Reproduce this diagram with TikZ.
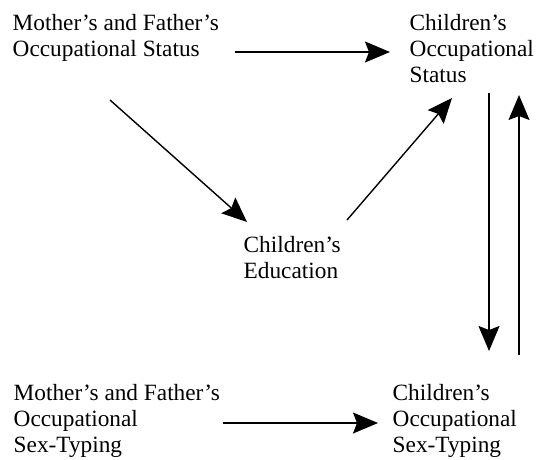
\documentclass[tikz,border=0pt]{standalone}
\usepackage{fontspec}
\setmainfont{Liberation Serif}
\usetikzlibrary{calc,arrows.meta}

\begin{document}
\begin{tikzpicture}[x=1pt,y=-1pt,line width=1.4pt,
  lbl/.style={anchor=base west,inner sep=0pt,align=left,font=\fontsize{23.3}{26}\selectfont},
  arr/.style={-{Stealth[length=25pt,width=21pt,inset=4pt]}}]
  \useasboundingbox (0,0) rectangle (537,459);

  % base anchor sits on the last line
  \node[lbl] (par) at (12,56) {Mother's and Father's\\Occupational Status};
  \node[lbl] (cos) at (409,82) {Children's\\Occupational\\Status};
  \node[lbl] (edu) at (243,278) {Children's\\Education};
  \node[lbl] (pst) at (13,452) {Mother's and Father's\\Occupational\\Sex-Typing};
  \node[lbl] (cst) at (392,452) {Children's\\Occupational\\Sex-Typing};

  \draw[arr] ($(par.base east)+(15,-4)$) -- ($(cos.base west)+(-19,-30)$);
  \draw[arr] ($(par.base west)+(98,44)$) -- ($(edu.base west)+(4,-56)$);
  \draw[arr] ($(edu.base west)+(104,-58)$) -- ($(cos.base west)+(43,16)$);
  \draw[arr] ($(cos.base west)+(80,11)$) -- ($(cst.base west)+(97,-101)$);
  \draw[arr] ($(cst.base west)+(127,-97)$) -- ($(cos.base west)+(110,13)$);
  \draw[arr] ($(pst.base east)+(2,-29)$) -- ($(cst.base west)+(-14,-29)$);

\end{tikzpicture}
\end{document}
